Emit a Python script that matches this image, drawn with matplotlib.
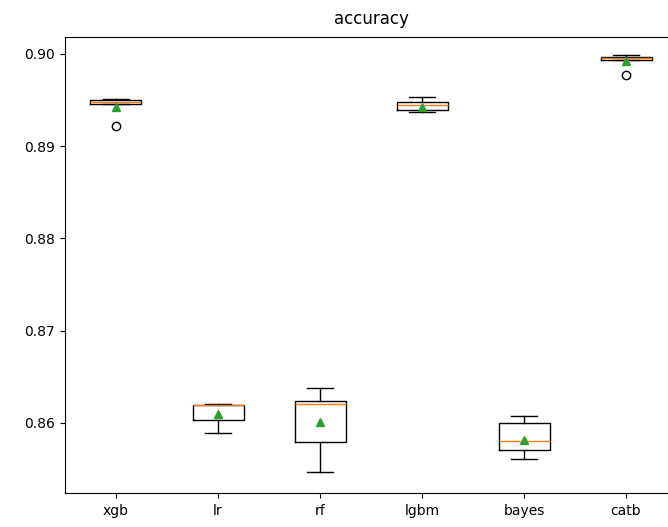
import matplotlib
matplotlib.use('Agg')
import matplotlib.pyplot as plt

# Cross-validation accuracy summary per model
models = ['xgb', 'lr', 'rf', 'lgbm', 'bayes', 'catb']
whislo = [0.8946, 0.8589, 0.8547, 0.8937, 0.8561, 0.8994]
q1 = [0.8946, 0.8603, 0.8579, 0.8939, 0.8571, 0.8994]
med = [0.8948, 0.8619, 0.8621, 0.8945, 0.8580, 0.8996]
q3 = [0.8950, 0.8620, 0.8624, 0.8948, 0.8600, 0.8997]
whishi = [0.8951, 0.8621, 0.8638, 0.8953, 0.8608, 0.8999]
means = [0.8943, 0.8610, 0.8601, 0.8943, 0.8582, 0.8992]
fliers = [[0.8922], [], [], [], [], [0.8977]]

stats = []
for i, name in enumerate(models):
    stats.append({
        'label': name,
        'whislo': whislo[i],
        'q1': q1[i],
        'med': med[i],
        'q3': q3[i],
        'whishi': whishi[i],
        'mean': means[i],
        'fliers': fliers[i],
    })

fig = plt.figure(figsize=(6.68, 5.27), dpi=100)
ax = fig.add_axes([0.0973, 0.0645, 0.9162, 0.8653])
ax.bxp(stats, showmeans=True)
ax.set_ylim(0.85241, 0.90184)
ax.set_yticks([0.86, 0.87, 0.88, 0.89, 0.90])
ax.tick_params(axis='x', pad=4.5)
ax.set_title('accuracy', pad=9.5)

fig.savefig('out.png', dpi=100)
